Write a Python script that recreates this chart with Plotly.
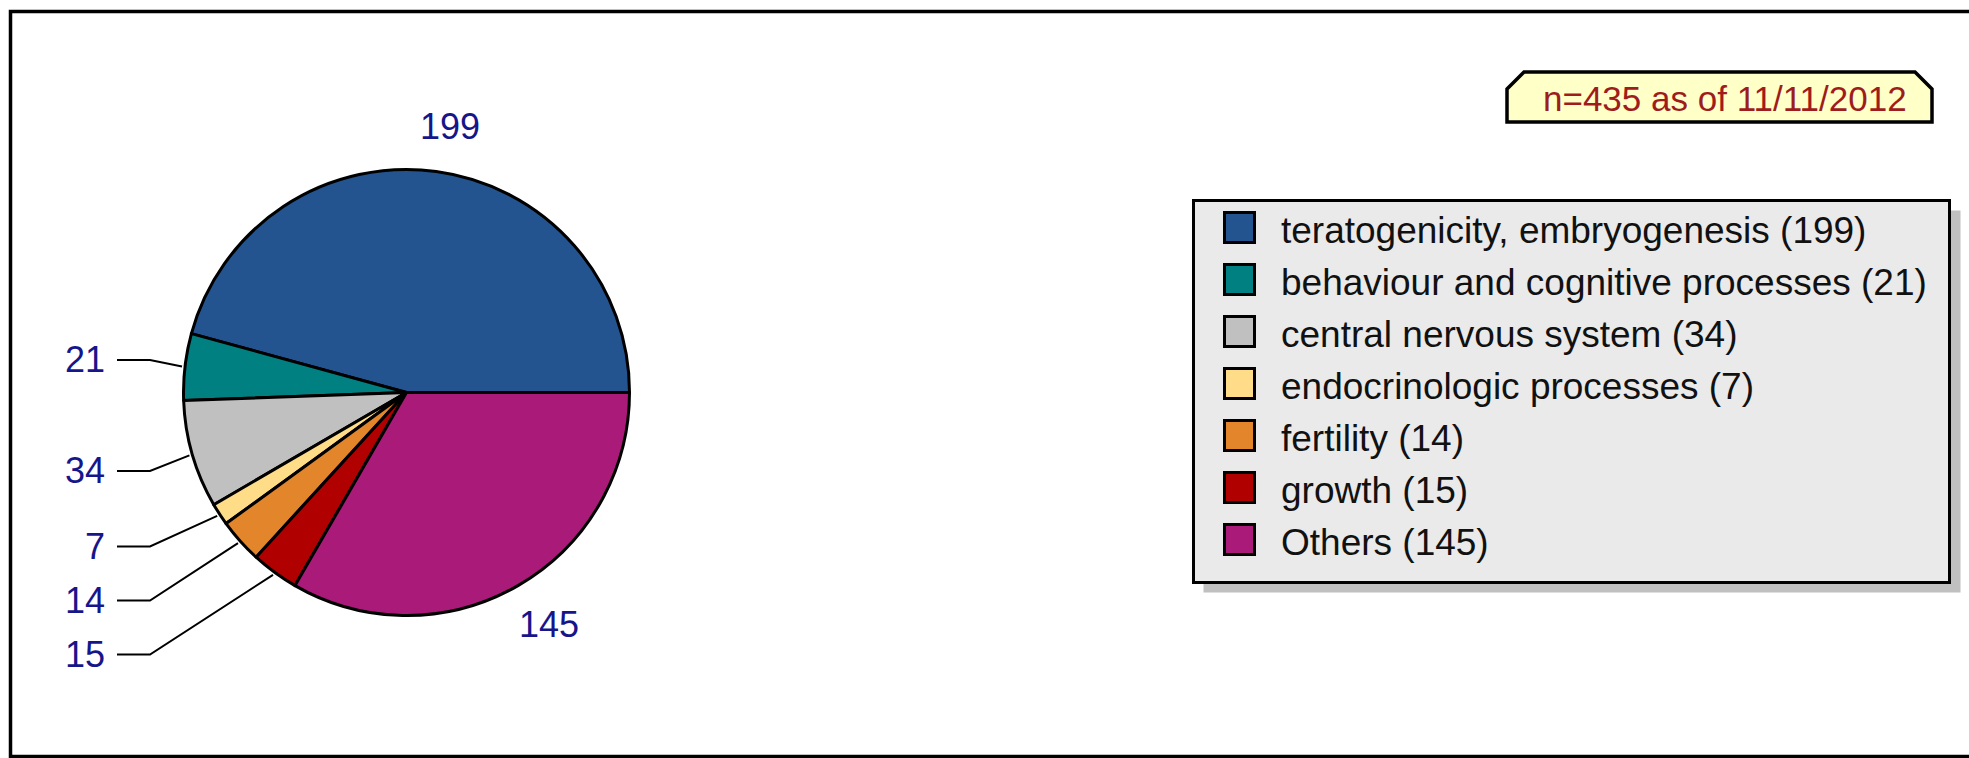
import math
import plotly.graph_objects as go

# ---------------- data ----------------
categories = [
    "teratogenicity, embryogenesis",
    "behaviour and cognitive processes",
    "central nervous system",
    "endocrinologic processes",
    "fertility",
    "growth",
    "Others",
]
counts = [199, 21, 34, 7, 14, 15, 145]
colors = ["#24548F", "#008080", "#C0C0C0", "#FFDD88", "#E3852A", "#B00000", "#AA1A78"]
note_text = "n=435 as of 11/11/2012"

# ---------------- layout constants (pixels) ----------------
W, H = 1969, 758
CX, CY, R = 406.5, 392.5, 223      # pie centre / radius
FONT = "Arial, Liberation Sans, sans-serif"
LABEL_COLOR = "#16168C"
LEFT_LABEL_RIGHT = 107            # right edge of left label column
LEADER_X0, LEADER_X1 = 117, 150   # horizontal part of leader
LEFT_GAP = 54
LEG_X0, LEG_Y0, LEG_X1, LEG_Y1 = 1193.5, 200.5, 1949.5, 582.5
LEG_ROW0, LEG_ROW_STEP = 227.5, 52
NOTE_X0, NOTE_Y0, NOTE_X1, NOTE_Y1, NOTE_CUT = 1507, 72, 1932, 122, 17

total = sum(counts)

fig = go.Figure()

# plotly places the first slice clockwise of `rotation` when counterclockwise;
# rotate so the first slice starts at 3 o'clock and runs counterclockwise.
fig.add_trace(go.Pie(
    labels=categories, values=counts, sort=False,
    direction="counterclockwise", rotation=90 - 360.0 * counts[0] / total,
    marker=dict(colors=colors, line=dict(color="black", width=3)),
    textinfo="none", hoverinfo="label+value", showlegend=False,
    domain=dict(x=[(CX - R) / W, (CX + R) / W],
                y=[1 - (CY + R) / H, 1 - (CY - R) / H]),
))

annotations = []
shapes = []

# ---------------- slice value labels ----------------
cum = 0
prev_y = -1e9
for val in counts:
    theta = math.radians(360.0 * (cum + val / 2.0) / total)
    cum += val
    c, s = math.cos(theta), math.sin(theta)
    deg = math.degrees(theta)
    if 120 < deg < 250:
        y = CY - (R + 59) * s
        y = max(y, prev_y + LEFT_GAP)
        prev_y = y
        ex, ey = CX + (R + 3) * c, CY - (R + 3) * s
        fig.add_trace(go.Scatter(
            x=[LEADER_X0, LEADER_X1, ex], y=[y, y, ey],
            mode="lines", line=dict(color="black", width=2),
            hoverinfo="skip", showlegend=False))
        annotations.append(dict(
            x=LEFT_LABEL_RIGHT, y=y, xref="x", yref="y",
            text=str(val), showarrow=False, xanchor="right", yanchor="middle",
            font=dict(family=FONT, size=36, color=LABEL_COLOR)))
    else:
        px_, py_ = CX + (R + 45) * c, CY - (R + 45) * s
        annotations.append(dict(
            x=px_ + 8, y=py_, xref="x", yref="y",
            text=str(val), showarrow=False, xanchor="center", yanchor="middle",
            font=dict(family=FONT, size=36, color=LABEL_COLOR)))

# ---------------- outer frame ----------------
shapes.append(dict(type="rect", xref="x", yref="y", x0=10.5, y0=11.5, x1=W + 10, y1=756.5,
                   line=dict(color="black", width=3.5), fillcolor="rgba(0,0,0,0)", layer="below"))

# ---------------- legend ----------------
shapes.append(dict(type="rect", xref="x", yref="y", x0=LEG_X0 + 10, y0=LEG_Y0 + 10,
                   x1=LEG_X1 + 11, y1=LEG_Y1 + 10, line=dict(width=0), fillcolor="#C0C0C0"))
shapes.append(dict(type="rect", xref="x", yref="y", x0=LEG_X0, y0=LEG_Y0, x1=LEG_X1, y1=LEG_Y1,
                   line=dict(color="black", width=3), fillcolor="#EAEAEA"))
for i, (cat, val, col) in enumerate(zip(categories, counts, colors)):
    yc = LEG_ROW0 + LEG_ROW_STEP * i
    shapes.append(dict(type="rect", xref="x", yref="y", x0=1224.5, x1=1254.5,
                       y0=yc - 15, y1=yc + 15, line=dict(color="black", width=3), fillcolor=col))
    annotations.append(dict(
        x=1279, y=yc + 3, xref="x", yref="y", text=f"{cat} ({val})", showarrow=False,
        xanchor="left", yanchor="middle",
        font=dict(family=FONT, size=37, color="#111111")))

# ---------------- note box ----------------
shapes.append(dict(
    type="path", xref="x", yref="y",
    path=(f"M {NOTE_X0},{NOTE_Y1} L {NOTE_X0},{NOTE_Y0 + NOTE_CUT} "
          f"L {NOTE_X0 + NOTE_CUT},{NOTE_Y0} L {NOTE_X1 - NOTE_CUT},{NOTE_Y0} "
          f"L {NOTE_X1},{NOTE_Y0 + NOTE_CUT} L {NOTE_X1},{NOTE_Y1} Z"),
    line=dict(color="black", width=3.5), fillcolor="#FFFFC8"))
annotations.append(dict(
    x=(NOTE_X0 + NOTE_X1) / 2 + 5, y=(NOTE_Y0 + NOTE_Y1) / 2 + 1, xref="x", yref="y",
    text=note_text, showarrow=False, xanchor="center", yanchor="middle",
    font=dict(family=FONT, size=35, color="#9E1C1C")))

fig.update_layout(
    width=W, height=H, margin=dict(l=0, r=0, t=0, b=0),
    paper_bgcolor="white", plot_bgcolor="white",
    xaxis=dict(range=[0, W], visible=False, fixedrange=True),
    yaxis=dict(range=[H, 0], visible=False, fixedrange=True),
    shapes=shapes, annotations=annotations, showlegend=False,
)

fig.write_html(
    "out.html",
    config={"displayModeBar": False},
    post_script="document.body.style.margin='0px';document.body.style.overflow='hidden';",
)
